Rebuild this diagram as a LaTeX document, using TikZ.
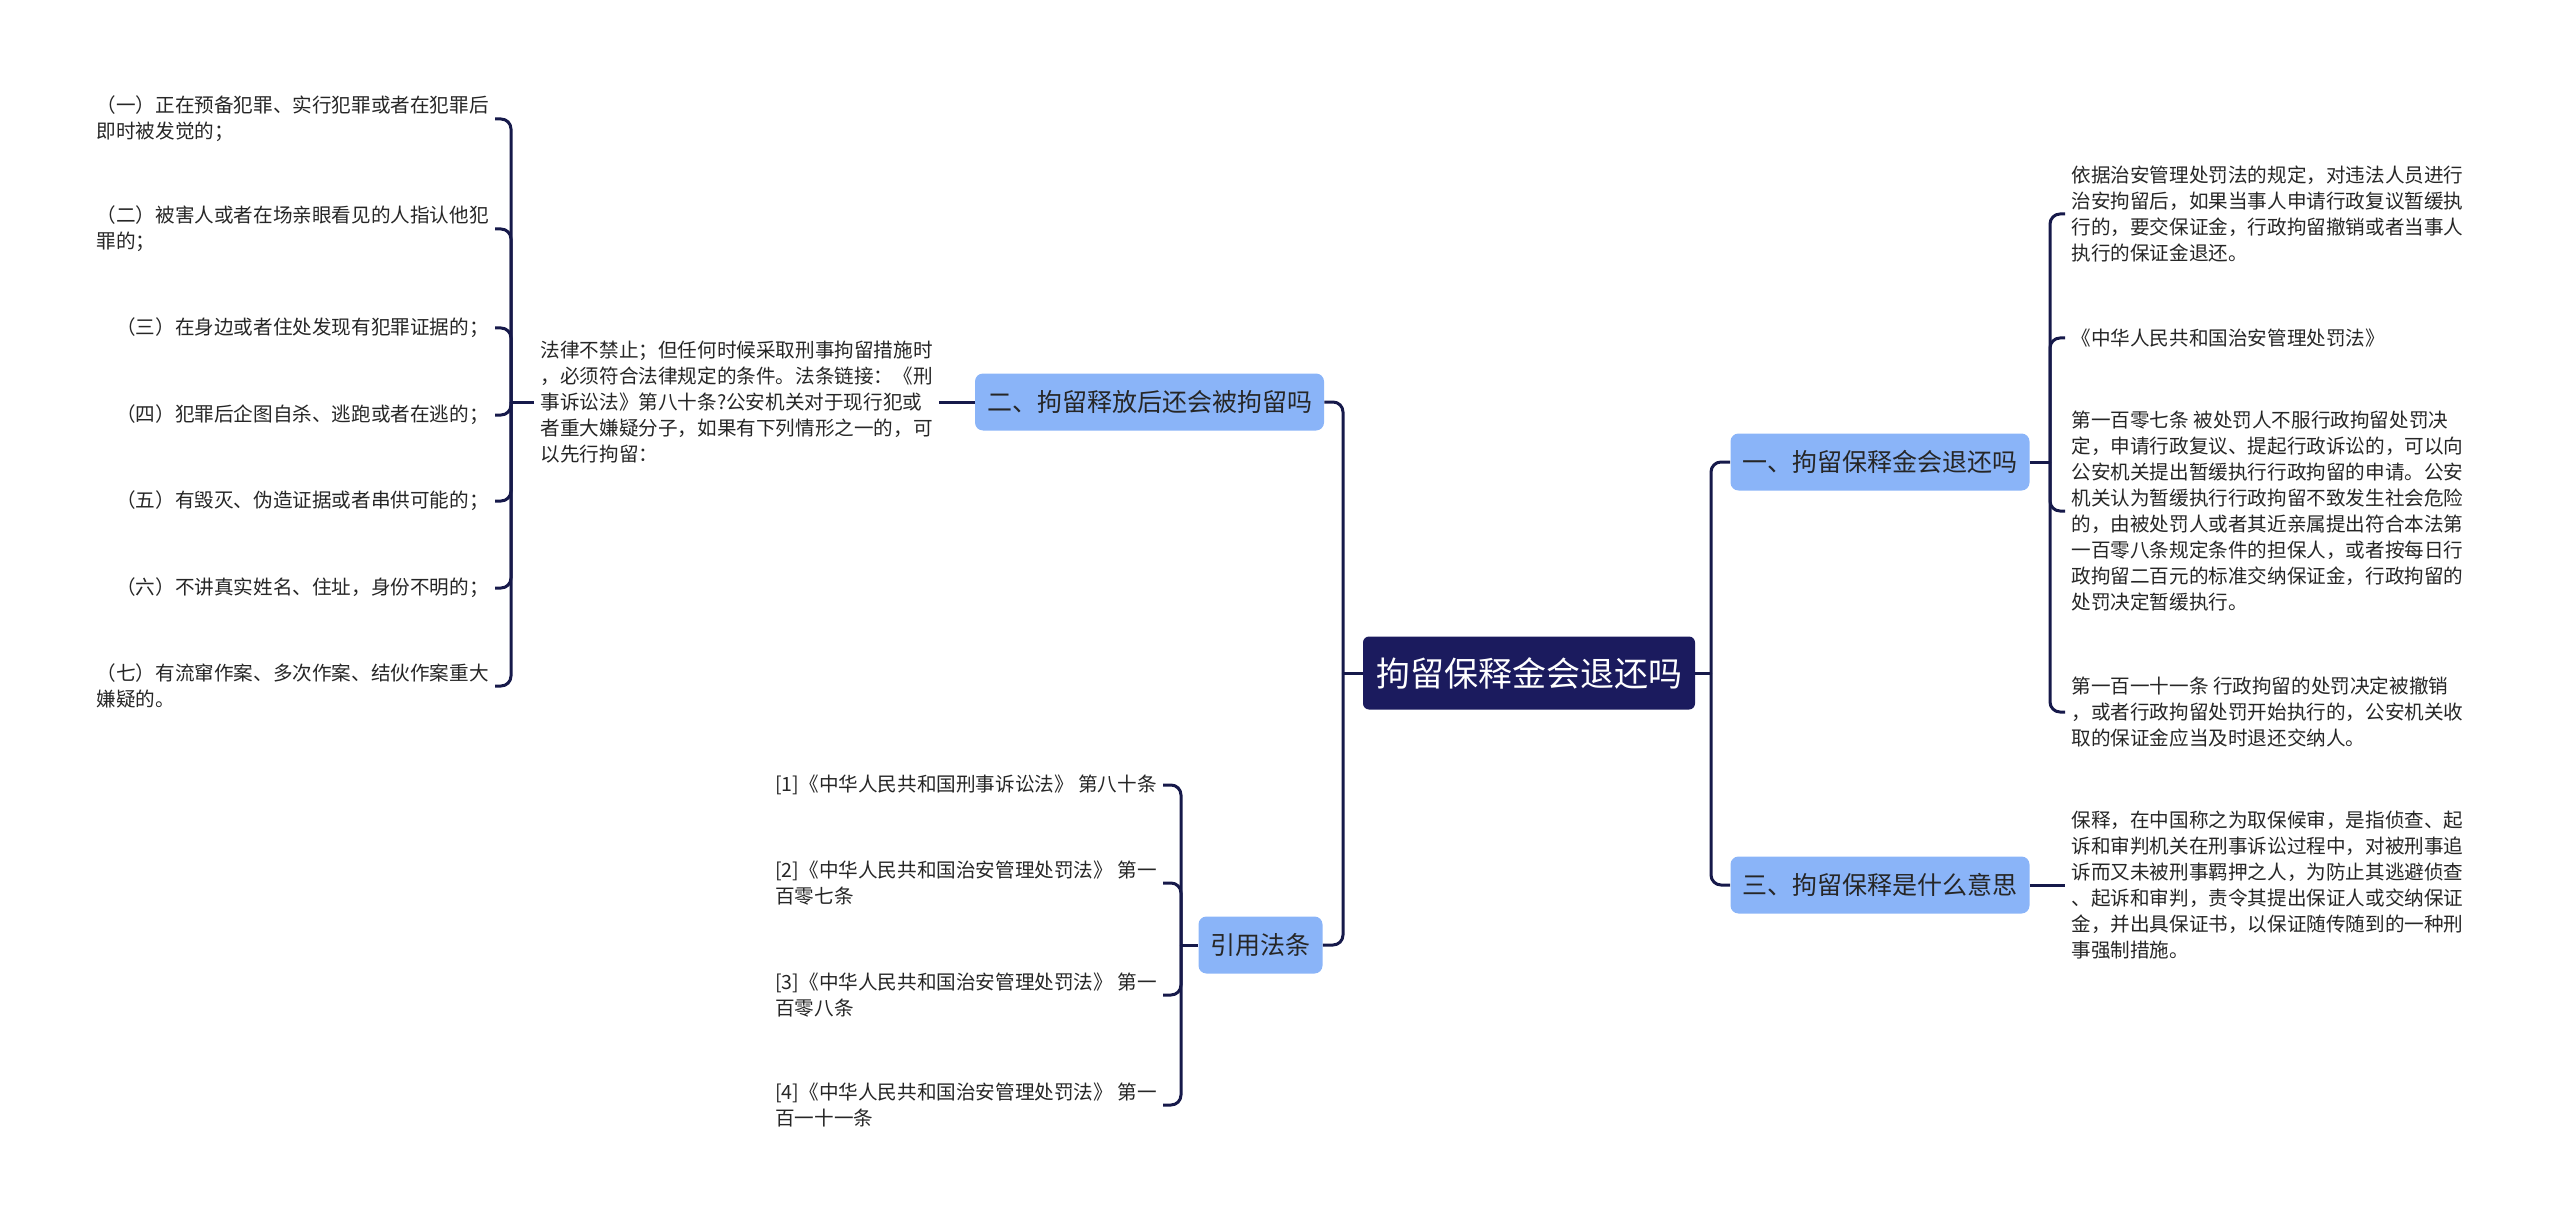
\documentclass[tikz,border=0pt]{standalone}
\usepackage{fontspec}
\setmainfont{Noto Sans CJK SC}
\usetikzlibrary{positioning,calc}
\definecolor{rootnavy}{HTML}{1B1B5E}
\definecolor{subblue}{HTML}{8AB4F8}
\definecolor{linknavy}{HTML}{16194A}
\definecolor{txtdark}{HTML}{262626}
\tikzset{
  rootblk/.style={rectangle,rounded corners=3pt,fill=rootnavy,text=white,font=\fontsize{17}{20}\selectfont,inner xsep=6.5pt,minimum height=36.5pt},
  subblk/.style={rectangle,rounded corners=4pt,fill=subblue,text=txtdark,font=\fontsize{12.5}{15}\selectfont,inner xsep=6pt,minimum height=28.5pt},
  leaf/.style={align=left,text=txtdark,font=\fontsize{9.8}{13}\selectfont,inner xsep=3pt,inner ysep=2pt},
  link/.style={draw=linknavy,line width=1.5pt,rounded corners=5pt}
}
\begin{document}
\begin{tikzpicture}[x=0.5pt,y=-0.5pt]
  \useasboundingbox (0,0) rectangle (2560,1225);

  \node[rootblk] (root) at (1529,673) {拘留保释金会退还吗};

  \node[subblk] (b1) at (1880,462) {一、拘留保释金会退还吗};
  \node[subblk] (b3) at (1880,885) {三、拘留保释是什么意思};
  \node[subblk] (b2) at (1149.5,402) {二、拘留释放后还会被拘留吗};
  \node[subblk] (bref) at (1260.5,945) {引用法条};

  \node[leaf,anchor=west] (c1) at (2065,214) {依据治安管理处罚法的规定，对违法人员进行\\治安拘留后，如果当事人申请行政复议暂缓执\\行的，要交保证金，行政拘留撤销或者当事人\\执行的保证金退还。};
  \node[leaf,anchor=west] (c2) at (2065,338) {《中华人民共和国治安管理处罚法》};
  \node[leaf,anchor=west] (c3) at (2065,511) {第一百零七条 被处罚人不服行政拘留处罚决\\定，申请行政复议、提起行政诉讼的，可以向\\公安机关提出暂缓执行行政拘留的申请。公安\\机关认为暂缓执行行政拘留不致发生社会危险\\的，由被处罚人或者其近亲属提出符合本法第\\一百零八条规定条件的担保人，或者按每日行\\政拘留二百元的标准交纳保证金，行政拘留的\\处罚决定暂缓执行。};
  \node[leaf,anchor=west] (c4) at (2065,712) {第一百一十一条 行政拘留的处罚决定被撤销\\，或者行政拘留处罚开始执行的，公安机关收\\取的保证金应当及时退还交纳人。};
  \node[leaf,anchor=west] (c5) at (2065,885) {保释，在中国称之为取保候审，是指侦查、起\\诉和审判机关在刑事诉讼过程中，对被刑事追\\诉而又未被刑事羁押之人，为防止其逃避侦查\\、起诉和审判，责令其提出保证人或交纳保证\\金，并出具保证书，以保证随传随到的一种刑\\事强制措施。};

  \node[leaf,anchor=east] (t2) at (939,402) {法律不禁止；但任何时候采取刑事拘留措施时\\，必须符合法律规定的条件。法条链接：《刑\\事诉讼法》第八十条?公安机关对于现行犯或\\者重大嫌疑分子，如果有下列情形之一的，可\\以先行拘留：};

  \node[leaf,anchor=east] (k1) at (495,119) {（一）正在预备犯罪、实行犯罪或者在犯罪后\\即时被发觉的；};
  \node[leaf,anchor=east] (k2) at (495,229) {（二）被害人或者在场亲眼看见的人指认他犯\\罪的；};
  \node[leaf,anchor=east] (k3) at (495,328) {（三）在身边或者住处发现有犯罪证据的；};
  \node[leaf,anchor=east] (k4) at (495,415) {（四）犯罪后企图自杀、逃跑或者在逃的；};
  \node[leaf,anchor=east] (k5) at (495,501) {（五）有毁灭、伪造证据或者串供可能的；};
  \node[leaf,anchor=east] (k6) at (495,588) {（六）不讲真实姓名、住址，身份不明的；};
  \node[leaf,anchor=east] (k7) at (495,686) {（七）有流窜作案、多次作案、结伙作案重大\\嫌疑的。};

  \node[leaf,anchor=east] (r1) at (1163,785) {[1]《中华人民共和国刑事诉讼法》 第八十条};
  \node[leaf,anchor=east] (r2) at (1163,883) {[2]《中华人民共和国治安管理处罚法》 第一\\百零七条};
  \node[leaf,anchor=east] (r3) at (1163,995) {[3]《中华人民共和国治安管理处罚法》 第一\\百零八条};
  \node[leaf,anchor=east] (r4) at (1163,1105) {[4]《中华人民共和国治安管理处罚法》 第一\\百一十一条};

  \coordinate (rj) at (1711,673);
  \coordinate (lj) at (1343,673);
  \coordinate (bj1) at (2050,462);
  \coordinate (lj2) at (511,402);
  \coordinate (rfj) at (1181,945);

  \draw[link] (root.east) -- (rj);
  \draw[link] (root.west) -- (lj);
  \foreach \t in {b1,b3} \draw[link] (rj) |- (\t.west);
  \foreach \t in {b2,bref} \draw[link] (lj) |- (\t.east);

  \draw[link] (b1.east) -- (bj1);
  \foreach \t in {c1,c2,c3,c4} \draw[link] (bj1) |- (\t.west);
  \draw[link] (b3.east) -- (c5.west);

  \draw[link] (b2.west) -- (t2.east);
  \draw[link] (t2.west) -- (lj2);
  \foreach \t in {k1,k2,k3,k4,k5,k6,k7} \draw[link] (lj2) |- (\t.east);

  \draw[link] (bref.west) -- (rfj);
  \foreach \t in {r1,r2,r3,r4} \draw[link] (rfj) |- (\t.east);
\end{tikzpicture}
\end{document}
